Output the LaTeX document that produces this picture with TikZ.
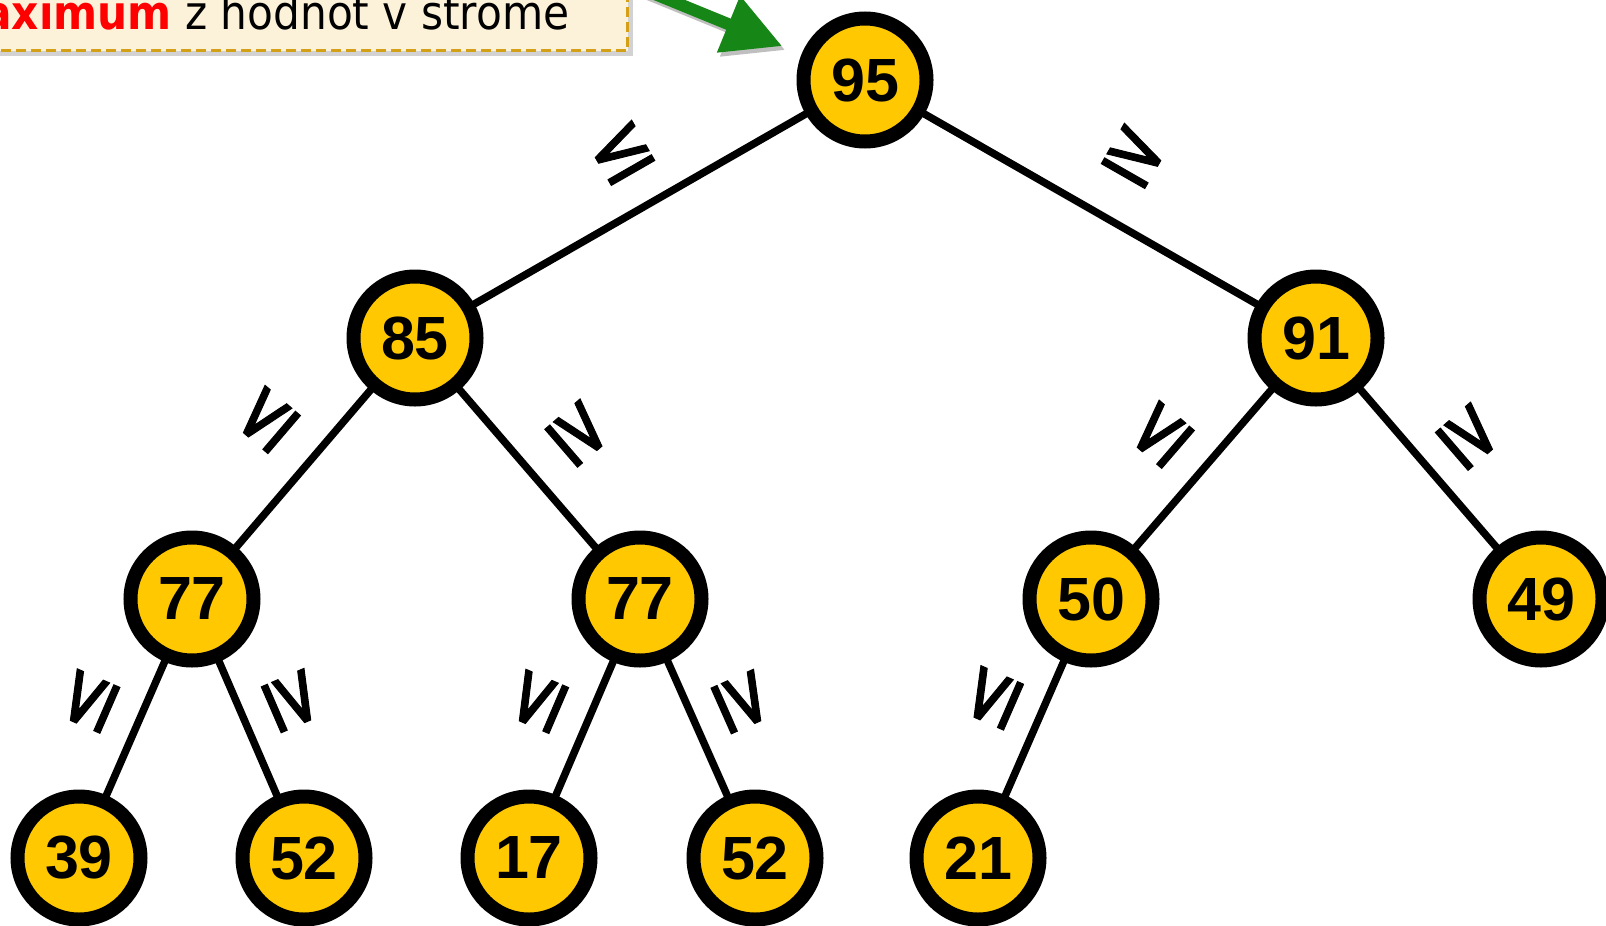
\documentclass[tikz,border=0pt]{standalone}
\usepackage{fontspec}
\setmainfont{Liberation Sans}
\newfontfamily\numfont{Liberation Sans}
\newfontfamily\symfont[FakeBold=1.2]{DejaVu Sans}
\newfontfamily\callfont{DejaVu Sans Condensed}
\usetikzlibrary{arrows.meta,shadows}
\definecolor{nodeyellow}{RGB}{255,200,0}
\definecolor{calloutfill}{RGB}{252,242,218}
\definecolor{calloutborder}{RGB}{212,160,23}
\definecolor{arrowgreen}{RGB}{22,135,22}
\definecolor{maxred}{RGB}{255,0,0}
\begin{document}
\begin{tikzpicture}[x=1pt,y=-1pt,
  treenode/.style={circle, draw=black, line width=14pt, fill=nodeyellow,
    minimum size=123pt, inner sep=0pt, outer sep=0pt,
    font=\numfont\bfseries\fontsize{61}{61}\selectfont},
  branch/.style={line width=7.5pt, draw=black},
  rel/.style={sloped, inner sep=0pt, anchor=center, yshift=#1,
    font=\symfont\fontsize{80}{80}\selectfont},
  callout/.style={fill=calloutfill, draw=calloutborder, line width=3pt,
    dash pattern=on 10pt off 5pt, inner xsep=58pt, inner ysep=21pt,
    text depth=0pt, font=\callfont\fontsize{47}{47}\selectfont,
    drop shadow={shadow xshift=5pt, shadow yshift=-5pt, opacity=0.35}},
  pointer/.style={draw=arrowgreen, line width=12pt,
    -{Triangle[length=58pt,width=58pt]}}
]
\path[use as bounding box] (0,0) rectangle (1606,926);
\clip (0,0) rectangle (1606,926);
\fill[white] (0,0) rectangle (1606,926);

% tree nodes
\node[treenode] (n95) at (865,80) {95};
\node[treenode] (n85) at (415,338) {85};
\node[treenode] (n91) at (1316,338) {91};
\node[treenode] (n77a) at (192,599) {77};
\node[treenode] (n77b) at (640,599) {77};
\node[treenode] (n50) at (1091,599) {50};
\node[treenode] (n49) at (1541,599) {49};
\node[treenode] (n39) at (79,858) {39};
\node[treenode] (n52a) at (304,858) {52};
\node[treenode] (n17) at (529,858) {17};
\node[treenode] (n52b) at (755,858) {52};
\node[treenode] (n21) at (978,858) {21};

% branches with relation labels
\draw[branch] (n95) -- node[pos=0.47, rel=58pt] {≤} (n85);
\draw[branch] (n95) -- node[pos=0.53, rel=68pt] {≥} (n91);
\draw[branch] (n85) -- node[pos=0.44, rel=60pt] {≤} (n77a);
\draw[branch] (n85) -- node[pos=0.53, rel=62pt] {≥} (n77b);
\draw[branch] (n91) -- node[pos=0.51, rel=55pt] {≤} (n50);
\draw[branch] (n91) -- node[pos=0.51, rel=52pt] {≥} (n49);
\draw[branch] (n77a) -- node[pos=0.46, rel=54pt] {≤} (n39);
\draw[branch] (n77a) -- node[pos=0.45, rel=52pt] {≥} (n52a);
\draw[branch] (n77b) -- node[pos=0.46, rel=54pt] {≤} (n17);
\draw[branch] (n77b) -- node[pos=0.46, rel=52pt] {≥} (n52b);
\draw[branch] (n50) -- node[pos=0.43, rel=51pt] {≤} (n21);

% callout
\node[callout, anchor=south east] (callout) at (629,52)
  {\textcolor{maxred}{\bfseries maximum} z hodnot v strome};

% green pointer
\coordinate (tail) at (640,-12);
\draw[pointer, draw=black, opacity=0.25, shorten >=28pt,
  transform canvas={xshift=3pt,yshift=-4pt}] (tail) -- (n95);
\draw[pointer, shorten >=28pt] (tail) -- (n95);
\end{tikzpicture}
\end{document}
